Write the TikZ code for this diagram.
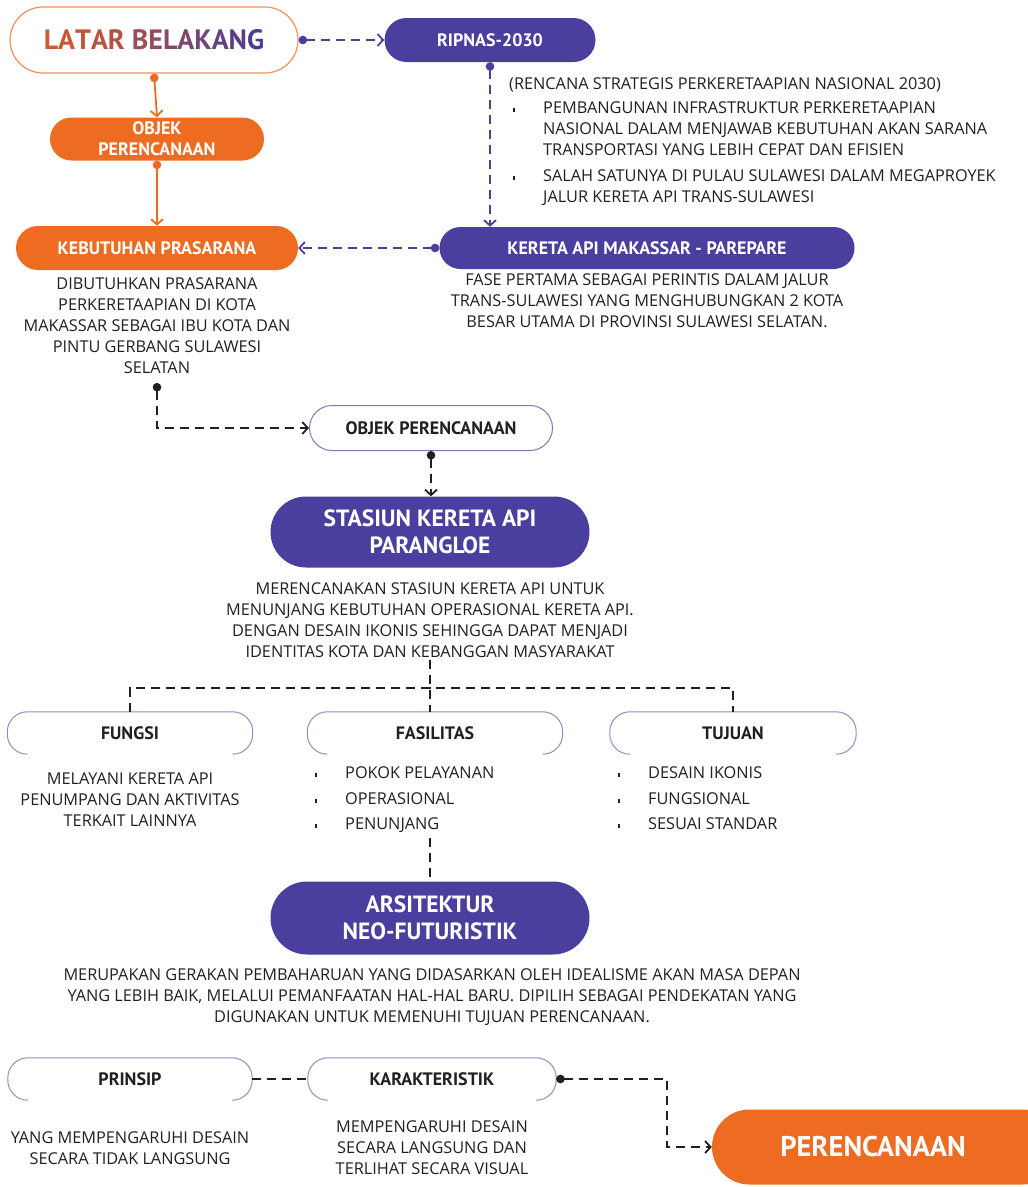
\documentclass[tikz,border=0pt]{standalone}
\usepackage{fontspec}
\setmainfont{Open Sans}
\newfontfamily\headfam{PT Sans}
\usetikzlibrary{shapes.misc,arrows.meta,calc}
\definecolor{purp}{HTML}{4A3F9E}
\definecolor{orng}{HTML}{EE6C22}
\definecolor{ink}{HTML}{231F20}
\definecolor{tred}{HTML}{D2592F}
\definecolor{tpur}{HTML}{4E3C92}
\newcommand\latartitle{%
\textcolor{tred}{L}\textcolor{tpur!6!tred}{A}\textcolor{tpur!12!tred}{T}\textcolor{tpur!18!tred}{A}\textcolor{tpur!24!tred}{R} %
\textcolor{tpur!40!tred}{B}\textcolor{tpur!48!tred}{E}\textcolor{tpur!56!tred}{L}\textcolor{tpur!64!tred}{A}\textcolor{tpur!72!tred}{K}\textcolor{tpur!82!tred}{A}\textcolor{tpur!92!tred}{N}\textcolor{tpur}{G}}
\newcommand\bul{\makebox[30pt][l]{\rule[1.5pt]{2pt}{4.5pt}}}
\begin{document}
\begin{tikzpicture}[x=1pt,y=-1pt,
  pill/.style={rounded rectangle, inner sep=0pt, align=center},
  headtext/.style={font=\headfam\bfseries\fontsize{18}{21}\selectfont},
  purplepill/.style={pill, fill=purp, text=white, headtext},
  orangepill/.style={pill, fill=orng, text=white, headtext},
  whitepill/.style={pill, draw=purp!70, line width=1pt, fill=white, text=ink, headtext},
  openpill/.style={pill, text=ink, headtext},
  bigfont/.style={font=\headfam\bfseries\fontsize{23.5}{26.5}\selectfont},
  body/.style={font=\fontsize{16.3}{21}\selectfont, text=ink, inner sep=0pt, align=center},
  bodyline/.style={font=\fontsize{16.3}{21}\selectfont, text=ink, inner sep=0pt, text height=11.6pt, text depth=0pt, anchor=west},
  link/.style={line width=1.8pt},
  dashline/.style={link, dash pattern=on 9pt off 6pt},
  dotarrow/.style={{Circle[length=8.5pt]}-{Straight Barb[length=5.5pt,width=12pt,line width=1.8pt]}},
  outline/.style={purp!60, line width=1pt, rounded corners=20pt},
]
\useasboundingbox (0,0) rectangle (1028,1187);
\fill[white] (0,0) rectangle (1028,1187);
\begin{scope}
\clip (0,0) rectangle (1028,1187);

% ---- top row: background and master plan
\node[pill, draw=orng!75, line width=1.2pt, fill=white, minimum width=288pt, minimum height=66pt,
      font=\headfam\bfseries\fontsize{28}{30}\selectfont] (latar) at (154,40) {\latartitle};
\node[purplepill, minimum width=211pt, minimum height=44pt] (ripnas) at (490,40) {RIPNAS-2030};

\node[bodyline] (rip0) at (509,84) {(RENCANA STRATEGIS PERKERETAAPIAN NASIONAL 2030)};
\node[bodyline] (rip1) at (513,108) {\bul PEMBANGUNAN INFRASTRUKTUR PERKERETAAPIAN};
\node[bodyline] (rip2) at (543,129) {NASIONAL DALAM MENJAWAB KEBUTUHAN AKAN SARANA};
\node[bodyline] (rip3) at (543,150) {TRANSPORTASI YANG LEBIH CEPAT DAN EFISIEN};
\node[bodyline] (rip4) at (513,176) {\bul SALAH SATUNYA DI PULAU SULAWESI DALAM MEGAPROYEK};
\node[bodyline] (rip5) at (543,197) {JALUR KERETA API TRANS-SULAWESI};

% ---- left column: planning object and infrastructure need
\node[orangepill, minimum width=214pt, minimum height=43pt] (objek1) at (157,139) {OBJEK\\PERENCANAAN};
\node[orangepill, minimum width=282pt, minimum height=44pt] (kebutuhan) at (157,248) {KEBUTUHAN PRASARANA};
\node[body, anchor=north] (kebdesc) at (157,277) {DIBUTUHKAN PRASARANA\\PERKERETAAPIAN DI KOTA\\MAKASSAR SEBAGAI IBU KOTA DAN\\PINTU GERBANG SULAWESI\\SELATAN};

% ---- right column: Makassar - Parepare line
\node[purplepill, minimum width=415pt, minimum height=42pt] (kereta) at (647,248) {KERETA API MAKASSAR - PAREPARE};
\node[body, anchor=north] (keretadesc) at (647,273.5) {FASE PERTAMA SEBAGAI PERINTIS DALAM JALUR\\TRANS-SULAWESI YANG MENGHUBUNGKAN 2 KOTA\\BESAR UTAMA DI PROVINSI SULAWESI SELATAN.};

% ---- object: the station
\node[whitepill, minimum width=243pt, minimum height=45pt] (objek2) at (431,428) {OBJEK PERENCANAAN};
\node[purplepill, bigfont, minimum width=319pt, minimum height=71pt] (stasiun) at (430,532) {STASIUN KERETA API\\PARANGLOE};
\node[body, anchor=north] (stasdesc) at (430,582) {MERENCANAKAN STASIUN KERETA API UNTUK\\MENUNJANG KEBUTUHAN OPERASIONAL KERETA API.\\DENGAN DESAIN IKONIS SEHINGGA DAPAT MENJADI\\IDENTITAS KOTA DAN KEBANGGAN MASYARAKAT};

% ---- function / facilities / goals
\node[openpill, minimum width=245pt, minimum height=42pt] (fungsi) at (130,733) {FUNGSI};
\node[openpill, minimum width=255pt, minimum height=42pt] (fasilitas) at (435,733) {FASILITAS};
\node[openpill, minimum width=246pt, minimum height=42pt] (tujuan) at (733,733) {TUJUAN};
\node[body, anchor=north] (fungsidesc) at (130,773) {MELAYANI KERETA API\\PENUMPANG DAN AKTIVITAS\\TERKAIT LAINNYA};
\node[bodyline] (fas1) at (315,773) {\bul POKOK PELAYANAN};
\node[bodyline] (fas2) at (315,799) {\bul OPERASIONAL};
\node[bodyline] (fas3) at (315,824) {\bul PENUNJANG};
\node[bodyline] (tuj1) at (618,773) {\bul DESAIN IKONIS};
\node[bodyline] (tuj2) at (618,799) {\bul FUNGSIONAL};
\node[bodyline] (tuj3) at (618,824) {\bul SESUAI STANDAR};

% ---- architectural approach
\node[purplepill, bigfont, minimum width=319pt, minimum height=73pt] (arsi) at (430,918) {ARSITEKTUR\\NEO-FUTURISTIK};
\node[body, anchor=north] (arsidesc) at (432,968) {MERUPAKAN GERAKAN PEMBAHARUAN YANG DIDASARKAN OLEH IDEALISME AKAN MASA DEPAN\\YANG LEBIH BAIK, MELALUI PEMANFAATAN HAL-HAL BARU. DIPILIH SEBAGAI PENDEKATAN YANG\\DIGUNAKAN UNTUK MEMENUHI TUJUAN PERENCANAAN.};

% ---- principle / characteristic
\node[openpill, minimum width=244pt, minimum height=42pt] (prinsip) at (130,1079) {PRINSIP};
\node[openpill, minimum width=248pt, minimum height=42pt] (karak) at (432,1079) {KARAKTERISTIK};
\node[body, anchor=north] (prinsipdesc) at (130,1131) {YANG MEMPENGARUHI DESAIN\\SECARA TIDAK LANGSUNG};
\node[body, anchor=north] (karakdesc) at (432,1120) {MEMPENGARUHI DESAIN\\SECARA LANGSUNG DAN\\TERLIHAT SECARA VISUAL};

% ---- result
\node[pill, fill=orng, minimum width=348pt, minimum height=75pt] (perenc) at (886,1147) {};
\node[text=white, font=\headfam\bfseries\fontsize{28.5}{30}\selectfont, inner sep=0pt] (perencT) at (873,1147) {PERENCANAAN};

% open-bottom outlines of the small white pills
\foreach \n in {fungsi,fasilitas,tujuan,prinsip,karak}{
  \draw[outline] ($(\n.west |- \n.south)+(20,0)$) -- (\n.west |- \n.south) -- (\n.west |- \n.north)
    -- (\n.east |- \n.north) -- (\n.east |- \n.south) -- ($(\n.east |- \n.south)+(-20,0)$);
}

% ---- connectors
\coordinate (kebdot) at (157,383);
\coordinate (stasdrop) at (430,660);
\coordinate (split) at (430,688);
\coordinate (fasdrop) at (430,838);
\coordinate (bend) at (667,1079);

\draw[link, orng, dotarrow] (latar.south) -- (objek1.north);
\draw[link, orng, dotarrow] (objek1.south) -- (kebutuhan.north);
\draw[dashline, purp, dotarrow] (latar.east) -- (ripnas.west);
\draw[dashline, purp, dotarrow] (ripnas.south) -- (ripnas.south |- kereta.north);
\draw[dashline, purp, dotarrow] (kereta.west) -- (kebutuhan.east);
\draw[dashline, ink, dotarrow] (kebdot) |- (objek2.west);
\draw[dashline, ink, dotarrow] (objek2.south) -- (objek2.south |- stasiun.north);
\draw[dashline, ink] (stasdrop) -- (stasdrop |- fasilitas.north);
\draw[dashline, ink] (fungsi.north) |- (split) -| (tujuan.north);
\draw[dashline, ink] (fasdrop) -- (fasdrop |- arsi.north);
\draw[dashline, ink] (prinsip.east) -- (karak.west);
\draw[dashline, ink, dotarrow] (karak.east) -- (bend) |- (perenc.west);
\end{scope}
\end{tikzpicture}
\end{document}
